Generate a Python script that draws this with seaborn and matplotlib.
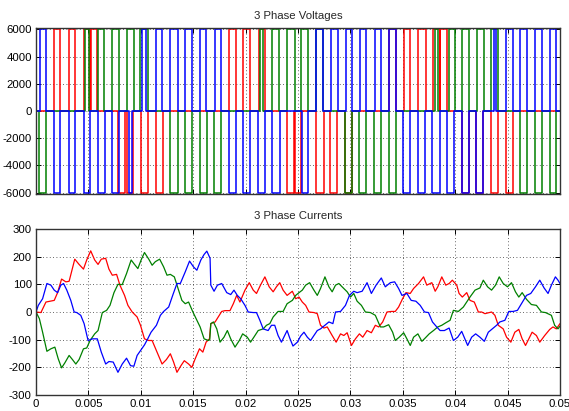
import numpy as np
import pandas as pd
import matplotlib
matplotlib.use("Agg")
import matplotlib.pyplot as plt
import seaborn as sns

# ---------------- data (times in ms) ----------------
V_LEVEL = 6000
GREEN_V0 = 2800    # initial transient value at t=0
BLUE_V0 = -1500

RED_POS = [(1.69, 2.32), (3.12, 3.75), (4.55, 5.12), (5.25, 5.82), (18.42, 19.06), (19.75, 20.45),
           (21.25, 21.88), (33.68, 34.32), (35.09, 35.72), (36.45, 37.18), (37.88, 38.52), (38.58, 39.22)]
RED_NEG = [(7.82, 8.46), (8.68, 9.26), (10.05, 10.69), (11.42, 12.12), (23.95, 24.59), (24.68, 25.32),
           (26.75, 27.45), (28.08, 28.75), (29.51, 30.18), (40.68, 41.32), (42.01, 42.65), (43.45, 44.08),
           (44.88, 45.52)]
GREEN_POS = [(4.68, 5.03), (5.92, 6.49), (7.28, 7.92), (8.68, 9.32), (9.95, 10.69), (21.35, 21.66),
             (22.55, 23.19), (23.95, 24.69), (25.31, 25.95), (26.75, 27.39), (38.04, 38.36), (39.38, 40.01),
             (40.68, 41.32), (42.08, 42.72), (43.45, 44.08)]
GREEN_NEG = [(0.29, 0.98), (12.81, 13.55), (14.19, 14.91), (15.62, 16.32), (16.98, 17.68), (29.51, 30.18),
             (30.82, 31.52), (32.25, 32.95), (33.65, 34.32), (46.21, 46.85), (47.64, 48.28), (49.02, 49.65)]
BLUE_POS = [(0.35, 0.98), (10.14, 10.52), (11.48, 12.05), (12.81, 13.55), (14.19, 14.91), (15.62, 16.25),
            (17.05, 17.68), (26.75, 27.39), (28.18, 28.82), (29.55, 30.18), (30.89, 31.52), (32.32, 32.95),
            (33.68, 34.32), (43.67, 43.92), (44.88, 45.52), (46.21, 46.85), (47.64, 48.28), (49.02, 49.65)]
BLUE_NEG = [(1.69, 2.26), (3.12, 3.75), (4.55, 5.12), (5.92, 6.56), (7.28, 7.92), (8.87, 9.16),
            (18.39, 19.06), (19.75, 20.45), (21.18, 21.82), (22.55, 23.25), (25.41, 25.95), (35.02, 35.72),
            (36.45, 37.09), (37.81, 38.52), (39.22, 39.86), (40.68, 41.32), (42.01, 42.65)]

RED_T = [0, 0.47, 0.95, 1.74, 2.06, 2.44, 2.85, 3.16, 3.70, 4.11,
         4.53, 4.84, 5.22, 5.60, 5.92, 6.23, 6.65, 6.96, 7.28, 7.69,
         8.01, 8.45, 8.77, 9.18, 9.65, 9.97, 10.35, 10.76, 11.08, 11.55,
         12.03, 12.44, 12.82, 13.13, 13.45, 13.83, 14.15, 14.56, 14.87, 15.19,
         15.60, 15.92, 16.23, 16.55, 16.68, 17.09, 17.72, 18.04, 18.51, 18.83,
         19.15, 19.46, 19.94, 20.35, 20.73, 21.04, 21.42, 21.84, 22.25, 22.63,
         22.94, 23.26, 23.58, 23.96, 24.46, 24.78, 25.10, 25.41, 25.73, 26.05,
         26.52, 26.84, 27.15, 27.47, 27.79, 28.26, 28.64, 29.06, 29.37, 29.69,
         30.10, 30.48, 30.86, 31.18, 31.59, 32.00, 32.38, 32.70, 33.08, 33.49,
         33.90, 34.28, 34.60, 34.98, 35.30, 35.71, 36.03, 36.50, 36.98, 37.29,
         37.77, 38.09, 38.34, 38.72, 39.10, 39.42, 39.73, 40.15, 40.37, 40.68,
         41.10, 41.41, 41.82, 42.21, 42.52, 42.84, 43.47, 43.79, 44.11, 44.58,
         44.90, 45.31, 45.69, 46.07, 46.39, 46.71, 47.02, 47.34, 47.75, 48.07,
         48.54, 49.02, 49.33, 49.65, 50.00]
RED_I = [0, -2, 36, 42, 70, 119, 109, 111, 191, 172,
         155, 188, 221, 188, 172, 191, 194, 155, 133, 136,
         97, 60, 24, 0, -18, -48, -97, -103, -103, -145,
         -188, -172, -151, -181, -218, -194, -176, -188, -200, -169,
         -133, -145, -109, -97, -42, -36, 2, 5, 5, 30,
         60, 36, 79, 106, 79, 67, 97, 127, 91, 73,
         91, 106, 79, 60, 75, 48, 54, 36, 24, 0,
         -2, -6, -48, -58, -54, -85, -109, -79, -85, -75,
         -121, -97, -79, -91, -67, -75, -48, -54, -36, 0,
         2, 2, 18, 48, 70, 67, 85, 103, 127, 97,
         106, 75, 91, 127, 97, 103, 115, 97, 67, 54,
         70, 42, 36, 0, 0, -6, 0, -12, -48, -61,
         -91, -109, -73, -63, -97, -121, -97, -73, -85, -109,
         -85, -63, -54, -61, -42]

GREEN_T = [0, 0.32, 0.63, 1.04, 1.42, 1.80, 2.12, 2.44, 2.75, 3.16,
           3.48, 3.80, 4.11, 4.53, 4.84, 5.16, 5.60, 5.92, 6.33, 6.74,
           7.06, 7.44, 7.82, 8.23, 8.64, 9.08, 9.40, 9.72, 10.03, 10.35,
           10.76, 11.08, 11.39, 11.80, 12.18, 12.50, 12.82, 13.20, 13.61, 13.92,
           14.24, 14.56, 14.97, 15.35, 15.66, 16.04, 16.46, 16.58, 16.68, 16.93,
           17.25, 17.56, 17.94, 18.26, 18.58, 18.99, 19.40, 19.72, 20.16, 20.47,
           20.79, 21.20, 21.68, 21.99, 22.31, 22.63, 23.10, 23.58, 23.96, 24.46,
           24.78, 25.10, 25.41, 25.73, 26.11, 26.52, 26.84, 27.15, 27.57, 27.95,
           28.26, 28.58, 28.90, 29.21, 29.69, 30.01, 30.32, 30.64, 31.05, 31.43,
           31.91, 32.38, 32.86, 33.17, 33.65, 34.03, 34.28, 34.66, 35.08, 35.39,
           35.71, 36.03, 36.44, 36.82, 37.14, 37.52, 37.93, 38.34, 38.72, 39.10,
           39.51, 39.83, 40.30, 40.78, 41.10, 41.41, 41.89, 42.36, 42.68, 43.09,
           43.47, 43.85, 44.20, 44.58, 44.99, 45.37, 45.75, 46.07, 46.39, 46.80,
           47.27, 47.75, 48.23, 48.61, 49.18, 49.49, 49.81, 50.00]
GREEN_I = [0, -24, -73, -142, -133, -127, -169, -202, -184, -157,
           -172, -188, -172, -133, -130, -103, -79, -67, -2, 6,
           24, 70, 100, 99, 139, 188, 172, 157, 188, 215,
           191, 169, 182, 191, 163, 133, 136, 127, 79, 42,
           30, 36, 0, -30, -54, -97, -103, -100, -42, -36,
           -61, -109, -91, -67, -97, -127, -103, -79, -91, -109,
           -91, -67, -61, -48, -42, -18, 2, 2, 30, 42,
           60, 70, 79, 97, 106, 79, 60, 85, 127, 91,
           73, 97, 103, 91, 73, 54, 67, 39, 24, 0,
           -2, -12, -54, -54, -46, -73, -103, -91, -75, -97,
           -121, -91, -79, -106, -94, -79, -67, -54, -48, -39,
           -30, 6, 2, 18, 36, 54, 79, 87, 115, 91,
           79, 97, 127, 103, 91, 106, 73, 54, 70, 46,
           27, 24, 0, -2, -12, -48, -61, -51]

BLUE_T = [0, 0.22, 0.63, 1.04, 1.42, 1.74, 2.06, 2.37, 2.63, 2.94,
          3.32, 3.64, 3.89, 4.27, 4.59, 4.97, 5.38, 5.85, 6.23, 6.65,
          6.96, 7.37, 7.82, 8.23, 8.64, 9.02, 9.34, 9.65, 10.03, 10.35,
          10.66, 10.98, 11.49, 11.87, 12.18, 12.66, 13.07, 13.45, 13.77, 14.24,
          14.65, 15.03, 15.35, 15.73, 16.04, 16.30, 16.61, 16.68, 16.99, 17.31,
          17.72, 18.20, 18.58, 18.89, 19.21, 19.53, 19.94, 20.25, 20.73, 21.04,
          21.36, 21.68, 22.15, 22.47, 22.78, 23.10, 23.42, 23.73, 23.96, 24.21,
          24.52, 24.94, 25.25, 25.57, 25.89, 26.20, 26.52, 26.84, 27.15, 27.57,
          27.95, 28.33, 28.58, 29.06, 29.53, 29.91, 30.32, 30.64, 31.12, 31.59,
          32.00, 32.45, 32.95, 33.33, 33.81, 34.22, 34.60, 34.92, 35.39, 35.80,
          36.25, 36.66, 37.07, 37.45, 37.83, 38.24, 38.56, 38.97, 39.42, 39.83,
          40.24, 40.62, 41.19, 41.57, 41.95, 42.36, 42.78, 43.16, 43.54, 43.95,
          44.26, 44.74, 45.12, 45.53, 45.94, 46.32, 46.80, 47.21, 47.66, 48.07,
          48.48, 48.86, 49.18, 49.56, 49.81, 50.00]
BLUE_I = [0, 24, 48, 103, 97, 79, 70, 97, 103, 79,
          42, 0, -2, -12, -42, -103, -97, -97, -145, -188,
          -179, -181, -218, -188, -167, -194, -196, -157, -136, -119,
          -97, -73, -48, -12, 2, 18, 63, 103, 103, 145,
          184, 163, 151, 188, 208, 220, 194, 97, 75, 97,
          103, 70, 63, 79, 60, 48, 24, 0, -2, -2,
          -30, -61, -67, -48, -48, -85, -109, -85, -67, -94,
          -123, -109, -87, -73, -91, -103, -85, -67, -61, -48,
          -36, -42, 0, 2, 24, 60, 75, 70, 75, 106,
          67, 97, 123, 91, 106, 109, 85, 60, 67, 42,
          39, 24, 0, -2, -36, -54, -67, -67, -58, -103,
          -91, -70, -121, -91, -79, -91, -106, -73, -61, -48,
          -36, -30, 2, 2, 6, 30, 60, 67, 91, 115,
          87, 67, 97, 127, 115, 103]

X_TICKS = [0, 0.005, 0.01, 0.015, 0.02, 0.025, 0.03, 0.035, 0.04, 0.045, 0.05]
X_LABELS = ["0", "0.005", "0.01", "0.015", "0.02", "0.025", "0.03", "0.035", "0.04", "0.045", "0.05"]
V_TICKS = [-6000, -4000, -2000, 0, 2000, 4000, 6000]
I_TICKS = [-300, -200, -100, 0, 100, 200, 300]

COLORS = {"red": "#ff0000", "green": "#008000", "blue": "#0000ff"}

# ---------------- style ----------------
sns.set_style("ticks")
plt.rcParams["font.family"] = ["Liberation Sans Narrow", "Liberation Sans", "DejaVu Sans"]
plt.rcParams["axes.unicode_minus"] = False
FS = 8.2


def step_wave(pos, neg, level, init=0.0):
    pulses = sorted([(s, e, level) for s, e in pos] + [(s, e, -level) for s, e in neg])
    t = [0.0]
    v = [init]
    if init:
        t.append(0.0)
        v.append(0.0)
    for s, e, lv in pulses:
        t += [s, s, e, e]
        v += [0.0, lv, lv, 0.0]
    t.append(50.0)
    v.append(0.0)
    return pd.DataFrame({"t": np.array(t) / 1000.0, "v": v})


fig = plt.figure(figsize=(5.69, 4.11), dpi=100, facecolor="white")
ax1 = fig.add_axes([36 / 569, 1 - 194.3 / 411, 524 / 569, 166 / 411])
ax2 = fig.add_axes([36 / 569, 1 - 395 / 411, 524 / 569, 166 / 411])

waves = [
    ("red", step_wave(RED_POS, RED_NEG, V_LEVEL)),
    ("green", step_wave(GREEN_POS, GREEN_NEG, V_LEVEL, GREEN_V0)),
    ("blue", step_wave(BLUE_POS, BLUE_NEG, V_LEVEL, BLUE_V0)),
]
for name, df in waves:
    sns.lineplot(data=df, x="t", y="v", sort=False, estimator=None, color=COLORS[name],
                 linewidth=1.1, ax=ax1, legend=False)

currents = [("red", RED_T, RED_I), ("green", GREEN_T, GREEN_I), ("blue", BLUE_T, BLUE_I)]
for name, t, i in currents:
    df = pd.DataFrame({"t": np.array(t) / 1000.0, "i": i})
    sns.lineplot(data=df, x="t", y="i", sort=False, estimator=None, color=COLORS[name],
                 linewidth=0.9, ax=ax2, legend=False)

for ax in (ax1, ax2):
    ax.set_facecolor("white")
    ax.set_xlim(0, 0.05)
    ax.set_xticks(X_TICKS)
    ax.set_xlabel("")
    ax.set_ylabel("")
    ax.grid(True, linestyle=(0, (1, 3)), color="black", linewidth=0.6, alpha=0.8)
    ax.set_axisbelow(True)
    ax.tick_params(direction="in", length=3.5, width=0.7, top=True, right=True,
                   labelsize=FS, pad=3, colors="black")
    for sp in ax.spines.values():
        sp.set_visible(True)
        sp.set_color("#333333")
        sp.set_linewidth(1.0)

ax1.set_ylim(-6120, 6075)
ax1.set_yticks(V_TICKS)
ax1.set_yticklabels([str(v) for v in V_TICKS])
ax1.set_xticklabels([])
ax1.set_title("3 Phase Voltages", fontsize=FS, pad=7)

ax2.set_ylim(-300, 300)
ax2.set_yticks(I_TICKS)
ax2.set_yticklabels([str(v) for v in I_TICKS])
ax2.set_xticklabels(X_LABELS)
ax2.set_title("3 Phase Currents", fontsize=FS, pad=7)

fig.savefig("out.png", dpi=100, facecolor="white")
